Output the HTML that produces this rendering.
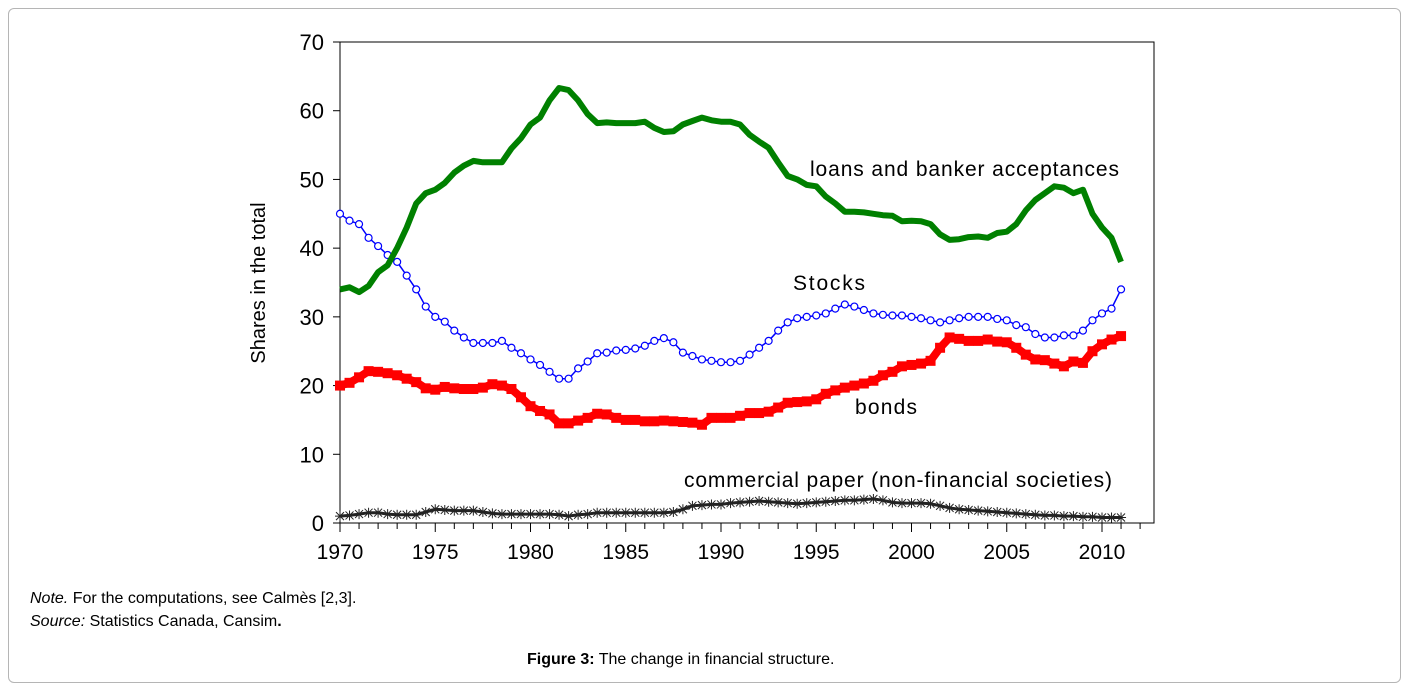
<!DOCTYPE html>
<html><head><meta charset="utf-8"><style>
html,body{margin:0;padding:0;background:#fff;width:1411px;height:691px;overflow:hidden;font-family:"Liberation Sans",sans-serif;}
#frame{position:absolute;left:8px;top:8px;width:1393px;height:675px;border:1px solid #b5b5b5;border-radius:6px;box-sizing:border-box;}
.txt{position:absolute;font-size:16px;color:#000;white-space:nowrap;}
svg{position:absolute;left:0;top:0;}
</style></head><body>
<div id="frame"></div>
<svg id="chart" width="1411" height="691"></svg>
<div class="txt" style="left:30px;top:590px"><i>Note.</i> For the computations, see Calmès [2,3].</div>
<div class="txt" style="left:30px;top:613px"><i>Source:</i> Statistics Canada, Cansim<b>.</b></div>
<div class="txt" style="left:527px;top:651px"><b>Figure 3:</b> The change in financial structure.</div>
<script>
const years=[1970,1970.5,1971,1971.5,1972,1972.5,1973,1973.5,1974,1974.5,1975,1975.5,1976,1976.5,1977,1977.5,1978,1978.5,1979,1979.5,1980,1980.5,1981,1981.5,1982,1982.5,1983,1983.5,1984,1984.5,1985,1985.5,1986,1986.5,1987,1987.5,1988,1988.5,1989,1989.5,1990,1990.5,1991,1991.5,1992,1992.5,1993,1993.5,1994,1994.5,1995,1995.5,1996,1996.5,1997,1997.5,1998,1998.5,1999,1999.5,2000,2000.5,2001,2001.5,2002,2002.5,2003,2003.5,2004,2004.5,2005,2005.5,2006,2006.5,2007,2007.5,2008,2008.5,2009,2009.5,2010,2010.5,2011];
const loans=[34,34.3,33.6,34.5,36.5,37.5,40,43,46.5,48,48.5,49.5,51,52,52.7,52.5,52.5,52.5,54.5,56,58,59,61.5,63.3,63,61.5,59.5,58.2,58.3,58.2,58.2,58.2,58.4,57.5,56.9,57,58,58.5,59,58.6,58.4,58.4,58,56.5,55.5,54.6,52.5,50.5,50,49.2,49,47.5,46.5,45.3,45.3,45.2,45,44.8,44.7,43.9,44,43.9,43.5,42,41.2,41.3,41.6,41.7,41.5,42.2,42.4,43.5,45.5,47,48,49,48.8,48,48.5,45,43,41.5,38];
const stocks=[45,44,43.5,41.5,40.3,39,38,36,34,31.5,30,29.3,28,27,26.2,26.2,26.2,26.5,25.5,24.7,23.8,23,22,21,21,22.5,23.5,24.7,24.8,25.1,25.2,25.4,25.8,26.5,26.9,26.3,24.8,24.3,23.8,23.6,23.4,23.4,23.6,24.5,25.5,26.5,28,29.2,29.8,30,30.2,30.5,31.2,31.8,31.5,31,30.5,30.3,30.2,30.2,30,29.8,29.5,29.2,29.5,29.8,30,30,30,29.7,29.5,28.8,28.5,27.5,27,27,27.3,27.3,28,29.5,30.5,31.2,34];
const bonds=[20,20.4,21.2,22.1,22,21.8,21.5,21,20.5,19.6,19.4,19.8,19.6,19.5,19.5,19.7,20.2,20,19.5,18.3,17,16.3,15.8,14.5,14.5,14.9,15.3,15.9,15.8,15.3,15,15,14.8,14.8,14.9,14.8,14.7,14.6,14.3,15.3,15.3,15.3,15.6,16,16,16.2,16.8,17.5,17.6,17.7,18,18.8,19.3,19.7,20,20.3,20.7,21.5,22,22.8,23,23.2,23.6,25.5,27,26.8,26.5,26.5,26.7,26.4,26.3,25.5,24.5,23.8,23.7,23.2,22.8,23.5,23.3,25,26,26.7,27.2];
const paper=[1,1.1,1.3,1.5,1.5,1.3,1.2,1.2,1.2,1.6,2,1.9,1.8,1.8,1.8,1.6,1.4,1.3,1.3,1.3,1.3,1.3,1.3,1.2,1,1.2,1.3,1.5,1.5,1.5,1.5,1.5,1.5,1.5,1.5,1.6,2.0,2.5,2.6,2.7,2.7,2.9,3.0,3.1,3.2,3.1,3.0,2.9,2.8,2.9,3.0,3.1,3.2,3.3,3.3,3.4,3.5,3.3,3.0,2.9,2.9,2.9,2.8,2.5,2.2,2.0,1.9,1.8,1.7,1.6,1.5,1.4,1.3,1.2,1.1,1.1,1.0,1.0,0.9,0.9,0.8,0.8,0.8];
const yTicks=[0,10,20,30,40,50,60,70];
const xTicks=[1970,1975,1980,1985,1990,1995,2000,2005,2010];

const L=340,T=42,R=1154,B=523;
const X=v=>L+(v-1970)*(1102-340)/40;
const Y=v=>B-v*(B-T)/70;
const svg=document.getElementById('chart');
const NS='http://www.w3.org/2000/svg';
function mk(tag,attrs,parent){const e=document.createElementNS(NS,tag);for(const k in attrs)e.setAttribute(k,attrs[k]);(parent||svg).appendChild(e);return e;}

const frame=mk('rect',{x:L,y:T,width:R-L,height:B-T,fill:'none',stroke:'#000','stroke-width':1});


yTicks.forEach(v=>{
  const t=mk('line',{x1:L-7,x2:L,y1:Y(v),y2:Y(v),stroke:'#000'});
  
  
  const l=mk('text',{x:L-16,y:Y(v)+8,'text-anchor':'end','font-size':22,'font-family':'Liberation Sans, sans-serif'});
  l.textContent=v;
  
  
});
for(let yr=1970;yr<=2012;yr++){
  const t=mk('line',{x1:X(yr),x2:X(yr),y1:B,y2:B+(yr%5===0?9:6),stroke:'#000'});
  
  
}
xTicks.forEach(v=>{
  const l=mk('text',{x:X(v),y:B+36,'text-anchor':'middle','font-size':21,'font-family':'Liberation Sans, sans-serif'});
  l.textContent=v;
  
  
});
const yt=mk('text',{x:0,y:0,transform:'translate(265,283) rotate(-90)','text-anchor':'middle','font-size':20,'font-family':'Liberation Sans, sans-serif'});
yt.textContent='Shares in the total';



function pts(arr){return arr.map((v,i)=>X(years[i]).toFixed(1)+','+Y(v).toFixed(1)).join(' ');}

const pp=mk('polyline',{points:pts(paper),fill:'none',stroke:'#222','stroke-width':3});


paper.forEach((v,i)=>{
  const x=X(years[i]),y=Y(v);
  const s=mk('path',{d:`M${x-4},${y-4}L${x+4},${y+4}M${x-4},${y+4}L${x+4},${y-4}M${x},${y-5}L${x},${y+5}M${x-5},${y}L${x+5},${y}`,stroke:'#222','stroke-width':1});
  
  
});

const bl=mk('polyline',{points:pts(bonds),fill:'none',stroke:'#ff0000','stroke-width':8});


bonds.forEach((v,i)=>{
  const r=mk('rect',{x:X(years[i])-5,y:Y(v)-5,width:10,height:10,fill:'#ff0000'});
  
  
});

const sl=mk('polyline',{points:pts(stocks),fill:'none',stroke:'#0000ff','stroke-width':1.5});


stocks.forEach((v,i)=>{
  const c=mk('circle',{cx:X(years[i]),cy:Y(v),r:3.5,fill:'#fff',stroke:'#0000ff','stroke-width':1.2});
  
  
});

const gl=mk('polyline',{points:pts(loans),fill:'none',stroke:'#008000','stroke-width':6,'stroke-linejoin':'round'});



function lab(txt,x,y,w,name){const t=mk('text',{x:x,y:y,'font-size':21,'font-family':'Liberation Sans, sans-serif',textLength:w,lengthAdjust:'spacing'});t.textContent=txt;
  
  }
lab('loans and banker acceptances',810,176,309,'label-loans');
lab('Stocks',793,290,72,'label-stocks');
lab('bonds',855,414,62,'label-bonds');
lab('commercial paper (non-financial societies)',684,487,428,'label-commercial-paper');
</script>
</body></html>
